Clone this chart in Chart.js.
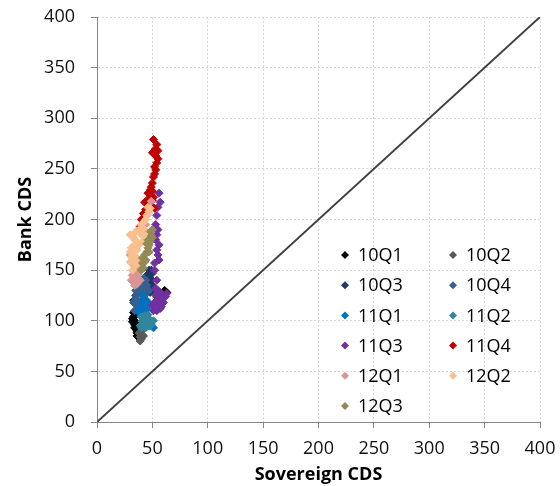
<!DOCTYPE html>
<html>
<head>
<meta charset="utf-8">
<script src="https://cdn.jsdelivr.net/npm/chart.js@4/dist/chart.umd.min.js"></script>
<style>
  body { margin: 0; background: #fff; }
  #wrap { width: 560px; height: 486px; position: relative; }
</style>
</head>
<body>
<div id="wrap"><canvas id="cdsChart" width="560" height="486"></canvas></div>
<script>
// quarters and their [sovereign, bank] CDS readings
const seriesNames = ['10Q1', '10Q2', '10Q3', '10Q4', '11Q1', '11Q2', '11Q3', '11Q4', '12Q1', '12Q2', '12Q3'];
const seriesColors = ['#000000', '#595959', '#1F3864', '#366092', '#0070C0', '#31859C', '#7030A0', '#C00000', '#DA9694', '#FABF8F', '#948A54'];

const q10_1 = [[33,104],[32,99],[34,96],[35,92],[36,88],[36,85],[38,84],[34,100],[33,108],[35,110],[37,95],[63,128],[60,125],[61,130],[36,90],[34,93],[37,87],[32,102],[35,106]];
const q10_2 = [[39,84],[40,82],[41,86],[38,88],[40,90],[42,85],[39,80]];
const q10_3 = [[48,142],[50,135],[50,147],[47,150],[46,138],[44,130],[48,128],[45,145],[33,120],[35,125],[42,133],[49,140],[51,132],[47,135],[49,150],[46,143]];
const q10_4 = [[33,118],[35,122],[37,130],[39,135],[41,138],[43,125],[45,120],[38,128],[36,115],[42,142],[45,135],[40,120],[34,110],[47,130],[36,125],[39,140],[44,140],[41,128],[38,118],[43,132],[35,130]];
const q11_1 = [[41,120],[39,112],[46,118],[51,93],[43,115],[40,105],[44,110],[47,100],[42,125],[45,112],[38,108],[41,110],[44,104],[42,117]];
const q11_2 = [[39,95],[41,100],[43,105],[45,98],[47,102],[49,96],[51,100],[40,93],[44,93],[46,106],[42,98],[48,95],[40,104],[44,100],[47,95]];
const q11_3 = [[56,226],[57,217],[54,204],[53,195],[54,185],[56,175],[55,165],[52,157],[51,110],[55,115],[58,120],[62,124],[55,130],[63,127],[53,125],[57,112],[60,118],[54,140],[52,150],[55,212],[53,180],[56,160],[59,125],[52,118],[56,122],[54,110],[57,128],[50,115],[53,132],[58,114],[55,190],[54,170]];
const q11_4 = [[51,279],[53,270],[50,266],[55,268],[54,274],[54,256],[53,249],[51,242],[50,236],[48,229],[46,226],[51,222],[43,217],[50,219],[42,206],[40,200],[39,193],[52,211],[49,232],[52,245],[55,260],[53,263],[52,252],[50,228],[47,221],[44,210],[48,214]];
const q12_1 = [[30,165],[32,158],[36,176],[34,172],[33,155],[32,145],[31,140],[36,136],[38,150],[37,146],[44,195],[35,150],[40,155],[49,218],[34,148],[36,142],[33,138],[35,162],[39,140],[34,135]];
const q12_2 = [[48,211],[45,204],[42,197],[33,182],[30,168],[30,158],[34,175],[36,162],[38,190],[40,185],[44,200],[47,208],[32,150],[35,155],[31,172],[36,170],[46,212],[43,190],[30,185],[33,165],[38,175],[40,195],[42,185],[35,188],[37,158],[32,160],[46,205],[41,178],[34,180],[36,178],[31,163]];
const q12_3 = [[48,188],[50,182],[46,172],[43,165],[41,157],[40,150],[48,178],[45,168],[50,190],[44,160],[42,152],[47,175],[49,184],[45,176],[43,158],[47,168],[41,162],[46,180]];

const seriesData = [q10_1, q10_2, q10_3, q10_4, q11_1, q11_2, q11_3, q11_4, q12_1, q12_2, q12_3];
const diagonal = [[0, 0], [400, 400]];
const axisTicks = [0, 50, 100, 150, 200, 250, 300, 350, 400];

const font = "'Open Sans', 'Liberation Sans', sans-serif";

// chart.js paints lower `order` on top, so later quarters get smaller numbers
const datasets = seriesData.map((pts, i) => ({
    label: seriesNames[i],
    data: pts.map(p => ({ x: p[0], y: p[1] })),
    pointStyle: 'rectRot',
    pointRadius: 4,
    borderWidth: 1,
    backgroundColor: seriesColors[i],
    borderColor: seriesColors[i],
    showLine: false,
    order: seriesData.length - i
}));
datasets.push({
    label: 'diag',
    type: 'line',
    data: diagonal.map(p => ({ x: p[0], y: p[1] })),
    borderColor: '#404040',
    borderWidth: 2,
    pointRadius: 0,
    order: 50
});

// legend drawn inside plot, two columns like the original
const insideLegend = {
    id: 'insideLegend',
    afterDraw(chart) {
        const ctx = chart.ctx;
        ctx.save();
        ctx.font = '18px ' + font;
        ctx.textBaseline = 'middle';
        ctx.textAlign = 'left';
        seriesNames.forEach((name, i) => {
            const col = i % 2, row = Math.floor(i / 2);
            const mx = col ? 453 : 345;
            const my = 255 + row * 30.2;
            ctx.fillStyle = seriesColors[i];
            ctx.beginPath();
            ctx.moveTo(mx - 4, my); ctx.lineTo(mx, my - 4);
            ctx.lineTo(mx + 4, my); ctx.lineTo(mx, my + 4);
            ctx.closePath();
            ctx.fill();
            ctx.fillStyle = '#000';
            ctx.fillText(name, mx + 13, my + 1);
        });
        ctx.restore();
    }
};

const gridOpts = { color: '#D9D9D9', tickColor: '#868686', tickLength: 6 };
const borderOpts = { color: '#868686', width: 1, dash: [2, 2] };

new Chart(document.getElementById('cdsChart'), {
    type: 'scatter',
    data: { datasets },
    plugins: [insideLegend],
    options: {
        responsive: false,
        animation: false,
        layout: { padding: { top: 17, right: 20, left: 0, bottom: 0 } },
        plugins: { legend: { display: false }, tooltip: { enabled: false } },
        scales: {
            x: {
                min: 0, max: 400,
                afterBuildTicks: s => { s.ticks = axisTicks.map(v => ({ value: v })); },
                afterFit: s => { s.height = 64; s.paddingLeft = 0; s.paddingRight = 0; },
                grid: gridOpts, border: borderOpts,
                ticks: { color: '#111', padding: 10, font: { family: font, size: 18 }, maxRotation: 0 },
                title: { display: true, text: 'Sovereign CDS', color: '#000', padding: { top: 0, bottom: 0 },
                         font: { family: font, size: 18, weight: 'bold' } }
            },
            y: {
                min: 0, max: 400,
                afterBuildTicks: s => { s.ticks = axisTicks.map(v => ({ value: v })); },
                afterFit: s => { s.width = 97; s.paddingTop = 0; s.paddingBottom = 0; },
                grid: gridOpts, border: borderOpts,
                ticks: { color: '#111', padding: 16, font: { family: font, size: 18 } },
                title: { display: true, text: 'Bank CDS', color: '#000', padding: { top: 15, bottom: 0 },
                         font: { family: font, size: 18, weight: 'bold' } }
            }
        }
    }
});
</script>
</body>
</html>
